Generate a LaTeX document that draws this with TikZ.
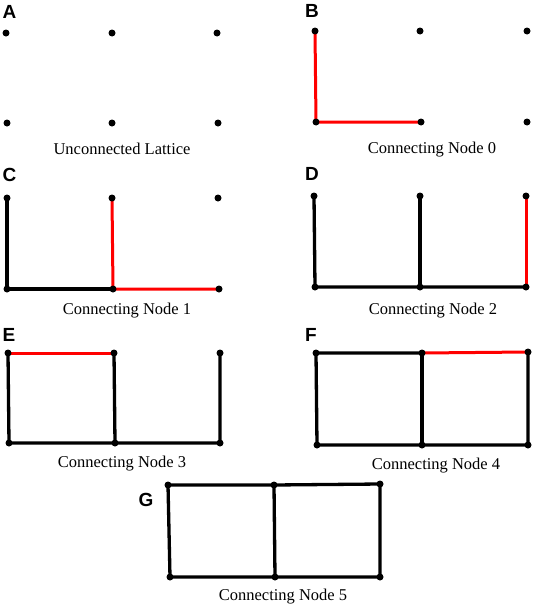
\documentclass[tikz,border=0pt]{standalone}
\usepackage{fontspec}
\setmainfont{Liberation Serif}
\newfontfamily\letterfont{Liberation Sans}
\begin{document}
\begin{tikzpicture}[x=1pt,y=-1pt,
  dot/.style={circle,fill=black,inner sep=0pt,minimum size=7pt},
  edge/.style={line width=3.3pt,black,line cap=round},
  newedge/.style={line width=3pt,red,line cap=round},
  caption/.style={font=\fontsize{16.5}{18}\selectfont,anchor=base,inner sep=0pt},
  letter/.style={font=\letterfont\bfseries\fontsize{19}{21}\selectfont,inner sep=0pt}]
\useasboundingbox (0,0) rectangle (533,605);
% ---------- A ----------
\node[letter] (LA) at (9.5,11.5) {A};
\coordinate (a1) at (6,33);  \coordinate (a2) at (112,33);  \coordinate (a3) at (217,33);
\coordinate (a4) at (7,123); \coordinate (a5) at (112,123); \coordinate (a6) at (218,123);
\foreach \n in {1,...,6} \node[dot] (a\n d) at (a\n) {};
\node[caption] (CA) at (122,154) {Unconnected Lattice};
% ---------- B ----------
\node[letter] (LB) at (312,11) {B};
\coordinate (b1) at (315,31);  \coordinate (b2) at (420,31);  \coordinate (b3) at (527,31);
\coordinate (b4) at (316,122); \coordinate (b5) at (421,122); \coordinate (b6) at (527,122);
\draw[newedge] (b1) -- (b4) -- (b5);
\foreach \n in {1,...,6} \node[dot] (b\n d) at (b\n) {};
\node[caption] (CB) at (432,153) {Connecting Node 0};
% ---------- C ----------
\node[letter] (LC) at (9.5,175) {C};
\coordinate (c1) at (7,198);  \coordinate (c2) at (112,198);  \coordinate (c3) at (218,198);
\coordinate (c4) at (7,289);  \coordinate (c5) at (113,289);  \coordinate (c6) at (219,289);
\draw[edge] (c1) -- (c4) -- (c5);
\draw[newedge] (c2) -- (c5) -- (c6);
\foreach \n in {1,...,6} \node[dot] (c\n d) at (c\n) {};
\node[caption] (CC) at (127,314) {Connecting Node 1};
% ---------- D ----------
\node[letter] (LD) at (312,174) {D};
\coordinate (d1) at (314,196);  \coordinate (d2) at (420,196);  \coordinate (d3) at (526,196);
\coordinate (d4) at (315,287);  \coordinate (d5) at (420,287);  \coordinate (d6) at (526,287);
\draw[edge] (d1) -- (d4) -- (d5) -- (d6);
\draw[edge] (d2) -- (d5);
\draw[newedge] (d3) -- (d6);
\foreach \n in {1,...,6} \node[dot] (d\n d) at (d\n) {};
\node[caption] (CD) at (433,314) {Connecting Node 2};
% ---------- E ----------
\node[letter] (LE) at (9,335) {E};
\coordinate (e1) at (8,353);  \coordinate (e2) at (114,353);  \coordinate (e3) at (220,353);
\coordinate (e4) at (9,443);  \coordinate (e5) at (115,443);  \coordinate (e6) at (220,443);
\draw[edge] (e1) -- (e4) -- (e5) -- (e6) -- (e3);
\draw[edge] (e2) -- (e5);
\draw[newedge] (e1) -- (e2);
\foreach \n in {1,...,6} \node[dot] (e\n d) at (e\n) {};
\node[caption] (CE) at (122,467) {Connecting Node 3};
% ---------- F ----------
\node[letter] (LF) at (311,335) {F};
\coordinate (f1) at (316,353);  \coordinate (f2) at (422,353);  \coordinate (f3) at (528,352);
\coordinate (f4) at (317,445);  \coordinate (f5) at (422,445);  \coordinate (f6) at (528,445);
\draw[edge] (f2) -- (f1) -- (f4) -- (f5) -- (f6) -- (f3);
\draw[edge] (f2) -- (f5);
\draw[newedge] (f2) -- (f3);
\foreach \n in {1,...,6} \node[dot] (f\n d) at (f\n) {};
\node[caption] (CF) at (436,469) {Connecting Node 4};
% ---------- G ----------
\node[letter] (LG) at (146,500) {G};
\coordinate (g1) at (168,485);  \coordinate (g2) at (274,485);  \coordinate (g3) at (380,484);
\coordinate (g4) at (170,577);  \coordinate (g5) at (275,577);  \coordinate (g6) at (380,577);
\draw[edge] (g1) -- (g2) -- (g3) -- (g6) -- (g5) -- (g4) -- (g1);
\draw[edge] (g2) -- (g5);
\foreach \n in {1,...,6} \node[dot] (g\n d) at (g\n) {};
\node[caption] (CG) at (283,600) {Connecting Node 5};
\end{tikzpicture}
\end{document}
